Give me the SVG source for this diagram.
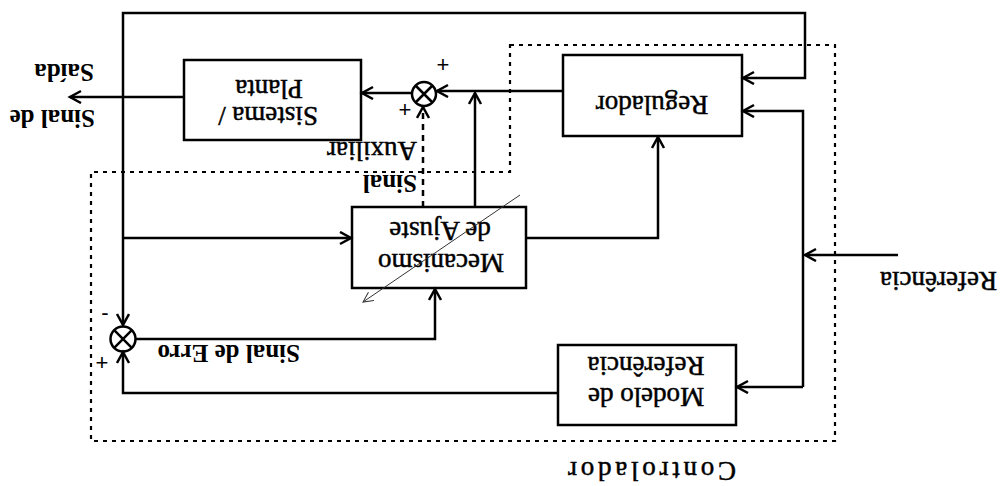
<svg xmlns="http://www.w3.org/2000/svg" width="1000" height="486" viewBox="0 0 1000 486">
<style>
.box{fill:none;stroke:#000;stroke-width:2.5}
.ln{fill:none;stroke:#000;stroke-width:2.5}
.dash{fill:none;stroke:#000;stroke-width:2.5;stroke-dasharray:6 5}
.ctrl{fill:none;stroke:#000;stroke-width:2.2;stroke-dasharray:4 5}
.thin{fill:none;stroke:#333;stroke-width:1}
.t{font-family:"Liberation Serif","Times New Roman",serif;font-size:27px;fill:#000;stroke:#000;stroke-width:0.5}
.b{font-family:"Liberation Serif","Times New Roman",serif;font-weight:bold;font-size:25px;fill:#000}
.s{font-family:"Liberation Sans",Arial,sans-serif;font-size:22px;fill:#000}
</style>
<defs>
<marker id="arr" markerUnits="userSpaceOnUse" markerWidth="16" markerHeight="16" refX="12" refY="7" orient="auto">
<path d="M1,1 L12,7 L1,13" fill="none" stroke="#000" stroke-width="2.5"/>
</marker>
<marker id="arrThin" markerUnits="userSpaceOnUse" markerWidth="12" markerHeight="12" refX="10" refY="5" orient="auto">
<path d="M0,0 L10,5 L0,10" fill="none" stroke="#333" stroke-width="1"/>
</marker>
</defs>
<rect width="1000" height="486" fill="#fff"/>

<g id="controlador">
<path class="ctrl" d="M510,45 H835 V441 H91 V172 H510 Z"/>
<text class="t" x="652" y="462" text-anchor="middle" textLength="168" transform="rotate(180 652 462)">Controlador</text>
</g>

<g id="regulador">
<rect class="box" x="563" y="55" width="179" height="81"/>
<text class="t" x="652" y="96" text-anchor="middle" transform="rotate(180 652 96)">Regulador</text>
</g>

<g id="sistema">
<rect class="box" x="184" y="60" width="177" height="80"/>
<text class="t" x="268" y="107" text-anchor="middle" transform="rotate(180 268 107)">Sistema /</text>
<text class="t" x="269" y="80" text-anchor="middle" transform="rotate(180 269 80)">Planta</text>
</g>

<g id="mecanismo">
<rect class="box" x="352" y="207" width="174" height="81"/>
<text class="t" x="440" y="222" text-anchor="middle" transform="rotate(180 440 222)">de Ajuste</text>
<text class="t" x="441" y="254" text-anchor="middle" transform="rotate(180 441 254)">Mecanismo</text>
</g>

<g id="modelo">
<rect class="box" x="558" y="345" width="178" height="80"/>
<text class="t" x="646" y="357" text-anchor="middle" transform="rotate(180 646 357)">Referência</text>
<text class="t" x="646" y="388" text-anchor="middle" transform="rotate(180 646 388)">Modelo de</text>
</g>

<g id="soma-planta">
<circle class="ln" cx="424" cy="94" r="12"/>
<path class="ln" d="M415.5,85.5 L432.5,102.5 M432.5,85.5 L415.5,102.5"/>
<text class="s" x="443" y="72" text-anchor="middle">+</text>
<text class="s" x="405" y="117" text-anchor="middle">+</text>
</g>

<g id="soma-erro">
<circle class="ln" cx="123" cy="339" r="12.5"/>
<path class="ln" d="M114.2,330.2 L131.8,347.8 M131.8,330.2 L114.2,347.8"/>
<text class="s" x="105" y="320" text-anchor="middle">-</text>
<text class="s" x="102" y="370" text-anchor="middle">+</text>
</g>

<g id="labels">
<text class="b" x="95" y="110" transform="rotate(180 95 110)">Sinal de</text>
<text class="b" x="94" y="64" transform="rotate(180 94 64)">Saída</text>
<text class="t" x="417" y="142" transform="rotate(180 417 142)">Auxiliar</text>
<text class="b" x="417" y="175" transform="rotate(180 417 175)">Sinal</text>
<text class="b" x="300" y="345" transform="rotate(180 300 345)">Sinal de Erro</text>
<text class="t" x="997" y="272" transform="rotate(180 997 272)">Referência</text>
</g>

<g id="connectors">
<path class="ln" d="M184,97 H70" marker-end="url(#arr)"/>
<path class="ln" d="M123,97 V13 H805 V78 H743" marker-end="url(#arr)"/>
<path class="ln" d="M123,97 V325" marker-end="url(#arr)"/>
<path class="ln" d="M123,238 H351" marker-end="url(#arr)"/>
<path class="ln" d="M563,91 H437" marker-end="url(#arr)"/>
<path class="ln" d="M412,93 H362" marker-end="url(#arr)"/>
<path class="ln" d="M475,207 V93" marker-end="url(#arr)"/>
<path class="dash" d="M423,207 V107" marker-end="url(#arr)"/>
<path class="ln" d="M526,238 H658 V137" marker-end="url(#arr)"/>
<path class="ln" d="M898,255 H805" marker-end="url(#arr)"/>
<path class="ln" d="M803,387 V111 H743" marker-end="url(#arr)"/>
<path class="ln" d="M803,387 H737" marker-end="url(#arr)"/>
<path class="ln" d="M558,393 H123 V352" marker-end="url(#arr)"/>
<path class="ln" d="M136,339 H435 V289" marker-end="url(#arr)"/>
<path class="thin" d="M520,195 L363,302" marker-end="url(#arrThin)"/>
</g>
</svg>
